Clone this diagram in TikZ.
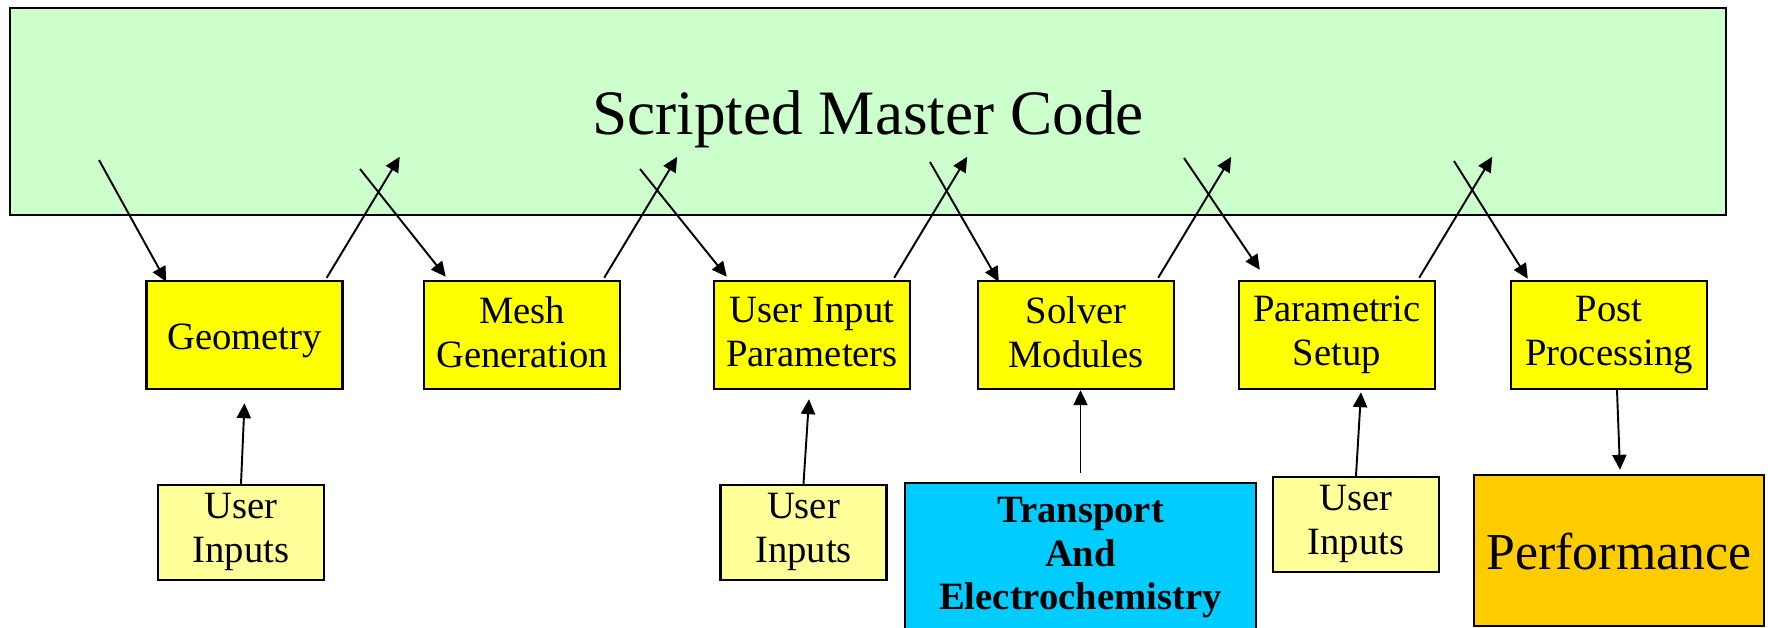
\documentclass[tikz,border=0pt]{standalone}
\usepackage{fontspec}
\setmainfont{Liberation Serif}
\usetikzlibrary{arrows.meta,calc}

\definecolor{mastergreen}{HTML}{CCFFCC}
\definecolor{stageyellow}{HTML}{FFFF00}
\definecolor{inputyellow}{HTML}{FFFF99}
\definecolor{physblue}{HTML}{00CCFF}
\definecolor{perforange}{HTML}{FFCC00}

% fixed first-line height and last-line depth, so every label sits alike
\newcommand{\firstrule}[1]{\rule{0pt}{#1}}
\newcommand{\lastrule}[1]{\rule[-#1]{0pt}{#1}}

\tikzset{
  box/.style={draw,line width=1.4pt,inner sep=0pt,align=center,
    font=\fontsize{22}{25}\selectfont},
  stage/.style={box,fill=stageyellow,minimum width=3.92cm,minimum height=2.16cm,
    execute at begin node=\firstrule{21.4pt},execute at end node=\lastrule{3.6pt}},
  userbox/.style={box,fill=inputyellow,minimum width=3.32cm,minimum height=1.9cm,
    execute at begin node=\firstrule{19.6pt},execute at end node=\lastrule{5.4pt}},
  flow/.style={-{Triangle[length=8.5pt,width=8pt]},line width=1.1pt}
}

\begin{document}
\begin{tikzpicture}[x=0.02cm,y=-0.02cm]
\useasboundingbox (0,0) rectangle (1768,628);

% master script on top
\node[draw,line width=1.2pt,fill=mastergreen,minimum width=34.32cm,minimum height=4.14cm,
  text height=28pt,text depth=1.4pt,font=\fontsize{36}{40}\selectfont]
  (master) at (868,111.5) {Scripted Master Code};

% the row of stages
\foreach \name/\x/\txt in {geo/244.5/Geometry, mesh/522/{Mesh\\Generation},
    uip/812/{User Input\\Parameters}, solver/1076/{Solver\\Modules},
    param/1337/{Parametric\\Setup}, post/1609/{Post\\Processing}}
  \node[stage] (\name) at (\x,335) {\txt};

% inputs below
\node[userbox] (ui1) at (241,532.5) {User\\Inputs};
\node[userbox] (ui2) at (803.5,532.5) {User\\Inputs};
\node[userbox] (ui3) at (1356,524.5) {User\\Inputs};
\node[box,fill=physblue,minimum width=7.02cm,minimum height=3.08cm,
  execute at begin node=\strut,execute at end node=\strut,
  font=\fontsize{22}{25}\selectfont\bfseries]
  (trans) at (1080.5,560) {Transport\\And\\Electrochemistry};
\node[box,fill=perforange,minimum width=5.8cm,minimum height=3.02cm,
  text height=22pt,text depth=0pt,font=\fontsize{29.5}{32}\selectfont]
  (perf) at (1619,550.5) {Performance};

% master -> stage
\foreach \b/\sx/\sy/\ex/\ey in {geo/99/160/21/2, mesh/360/169/23/-3, uip/640/169/14/-3,
    solver/930/162/22/2, param/1184/158/22/-10, post/1454/161/18/-1} {
  \coordinate (in-\b) at (\sx,\sy);
  \draw[flow] (in-\b) -- ($(\b.north west)+(\ex,\ey)$);
}

% stage -> master
\foreach \b in {geo,mesh,uip,solver,param} {
  \coordinate (out-\b) at ($(\b.north east)+(56,-123)$);
  \draw[flow] ($(\b.north east)+(-17,-2)$) -- (out-\b);
}

% inputs into the stages
\draw[flow] (ui1.north) -- ($(geo.south)+(0,13)$);
\draw[flow] (ui2.north) -- ($(uip.south)+(-3,9)$);
\draw[flow] ($(trans.north)+(0,-9)$) -- (trans.north |- solver.south);
\draw[flow] (ui3.north) -- ($(param.south)+(24,2)$);
\draw[flow] ($(post.south)+(8,0)$) -- ($(perf.north)+(1,-4)$);
\end{tikzpicture}
\end{document}
